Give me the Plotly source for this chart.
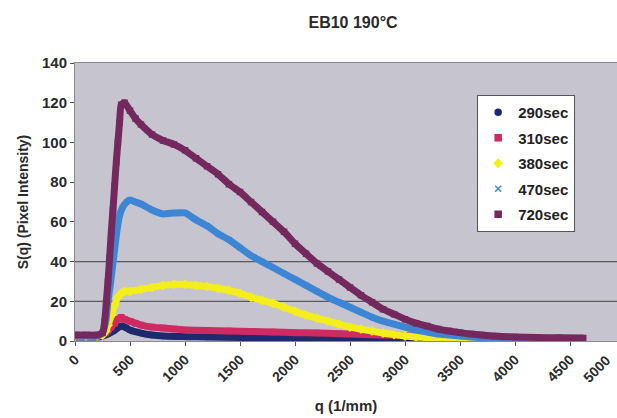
import plotly.graph_objects as go

# ---- data ----
q_290 = [0, 100, 200, 250, 300, 350, 400, 430, 470, 500, 600, 700, 800, 1000, 1200, 1500,
         2000, 2500, 3000, 3500, 4000, 4600]
s_290 = [2.0, 2.0, 2.0, 2.5, 3.5, 5.0, 7.0, 7.5, 6.5, 5.5, 4.0, 3.0, 2.5, 2.2, 2.0, 1.8,
         1.6, 1.5, 1.3, 1.2, 1.1, 1.0]

q_310 = [0, 100, 200, 250, 280, 300, 330, 360, 390, 420, 450, 500, 550, 600, 700, 800, 900,
         1000, 1200, 1400, 1600, 1800, 2000, 2200, 2400, 2600, 2800, 3000, 3200, 3400, 3600,
         3800, 4000, 4300, 4600]
s_310 = [2.5, 2.5, 2.5, 3.0, 4.0, 5.0, 7.0, 9.0, 11.0, 12.0, 11.0, 10.0, 9.0, 8.0, 7.0, 6.5,
         6.0, 5.6, 5.3, 5.0, 4.8, 4.5, 4.2, 4.0, 3.7, 3.4, 3.0, 2.7, 2.3, 2.0, 1.8, 1.5, 1.3,
         1.2, 1.1]

q_380 = [0, 100, 200, 250, 280, 300, 330, 360, 390, 420, 450, 500, 600, 700, 800, 900, 1000,
         1100, 1200, 1300, 1400, 1500, 1600, 1700, 1800, 1900, 2000, 2100, 2200, 2300, 2400,
         2500, 2600, 2700, 2800, 2900, 3000, 3100, 3200, 3300, 3600, 4000, 4600]
s_380 = [2.5, 2.5, 2.5, 3.0, 5.0, 8.0, 13.0, 18.0, 22.0, 24.0, 25.0, 25.0, 26.0, 27.0, 28.0,
         28.5, 28.5, 28.0, 27.5, 26.5, 25.5, 24.0, 22.0, 20.5, 19.0, 17.0, 15.0, 13.0, 11.5,
         10.0, 8.5, 7.0, 6.0, 5.0, 4.0, 3.2, 2.5, 2.0, 1.7, 1.5, 1.3, 1.2, 1.0]

q_470 = [0, 100, 200, 250, 280, 300, 320, 340, 360, 380, 400, 430, 470, 500, 550, 600, 700,
         800, 900, 1000, 1100, 1200, 1300, 1400, 1500, 1600, 1700, 1800, 1900, 2000, 2100,
         2200, 2300, 2400, 2500, 2600, 2700, 2800, 2900, 3000, 3100, 3200, 3300, 3400, 3500,
         3600, 3700, 4000, 4600]
s_470 = [2.5, 2.5, 2.5, 4.0, 10.0, 20.0, 28.0, 37.0, 46.0, 55.0, 62.0, 67.0, 70.0, 71.0,
         70.0, 69.0, 66.0, 64.0, 64.5, 64.5, 61.0, 58.0, 54.0, 51.0, 47.0, 43.0, 40.0, 37.0,
         34.0, 31.0, 28.0, 25.0, 22.0, 19.5, 17.0, 14.5, 12.0, 10.0, 8.5, 7.0, 5.5, 4.5, 3.5,
         3.0, 2.5, 2.0, 1.6, 1.3, 1.1]

q_720 = [0, 100, 200, 250, 270, 285, 300, 315, 330, 345, 360, 375, 390, 405, 420, 450, 500,
         550, 600, 700, 800, 900, 1000, 1100, 1200, 1300, 1400, 1500, 1600, 1700, 1800, 1900,
         2000, 2100, 2200, 2300, 2400, 2500, 2600, 2700, 2800, 2900, 3000, 3100, 3200, 3300,
         3400, 3500, 3600, 3700, 3800, 3900, 4000, 4200, 4400, 4620]
s_720 = [3.0, 3.0, 3.0, 4.0, 10.0, 20.0, 30.0, 42.0, 55.0, 66.0, 78.0, 90.0, 100.0, 110.0,
         119.0, 120.0, 116.0, 112.0, 109.0, 104.0, 101.0, 99.0, 96.0, 92.0, 88.0, 84.0, 79.0,
         75.0, 70.0, 65.0, 60.0, 55.0, 49.0, 44.0, 39.0, 35.0, 31.0, 27.0, 23.0, 19.5, 16.0,
         13.5, 11.0, 9.0, 7.5, 6.0, 5.0, 4.2, 3.5, 3.0, 2.5, 2.2, 2.0, 1.8, 1.6, 1.5]

series = [
    ("290sec", q_290, s_290, "#1d2a6e", "circle", 5),
    ("310sec", q_310, s_310, "#d02a62", "square", 5),
    ("380sec", q_380, s_380, "#f4ee1c", "diamond", 6),
    ("470sec", q_470, s_470, "#3d86d6", "x-thin-open", 5),
    ("720sec", q_720, s_720, "#74295e", "square", 5),
]

x_ticks = [0, 500, 1000, 1500, 2000, 2500, 3000, 3500, 4000, 4500]
y_ticks = [0, 20, 40, 60, 80, 100, 120, 140]

FONT = "Liberation Sans, Arial, sans-serif"

fig = go.Figure()
for i, (name, xs, ys, col, sym, sz) in enumerate(series):
    fig.add_trace(go.Scatter(
        x=xs, y=ys, mode="lines+markers", name=name, showlegend=False,
        line=dict(color=col, width=7, shape="spline", smoothing=0.5),
        marker=dict(color=col, symbol=sym, size=sz, line=dict(color=col, width=1.5)),
    ))
for i, (name, xs, ys, col, sym, sz) in enumerate(series):
    fig.add_trace(go.Scatter(
        x=[None], y=[None], mode="markers", name=name, legendgroup=f"g{i}",
        marker=dict(color=col, symbol=sym, size=6, line=dict(color=col, width=1.5)),
    ))

for g in (20, 40):
    fig.add_shape(type="line", xref="paper", x0=0, x1=1, yref="y", y0=g, y1=g,
                  line=dict(color="#5a5a5e", width=1.3), layer="below")

fig.add_annotation(text="5000", xref="paper", yref="paper", x=0.998, y=-0.03,
                   xanchor="right", yanchor="top", textangle=-45, showarrow=False,
                   font=dict(family=FONT, size=14, color="#2a2a2a", weight="bold"))

fig.update_layout(
    width=617, height=418,
    margin=dict(l=75, r=0, t=63, b=77),
    paper_bgcolor="white", plot_bgcolor="#c6c5cf",
    title=dict(text="EB10 190°C", x=0.513, xref="paper", y=0.947, yref="container",
               xanchor="center", yanchor="middle",
               font=dict(family=FONT, size=16, color="#2a2a2a", weight="bold")),
    font=dict(family=FONT, color="#2a2a2a"),
    legend=dict(x=0.742, y=0.885, xanchor="left", yanchor="top", bgcolor="white",
                bordercolor="#555", borderwidth=1, tracegroupgap=3,
                font=dict(family=FONT, size=15, color="#222", weight="bold")),
    xaxis=dict(range=[0, 4927], tickvals=x_ticks, tickangle=-45, showgrid=False,
               zeroline=False, showline=True, linecolor="#8a8a8a", linewidth=1,
               mirror=True, ticks="outside", ticklen=4, tickcolor="#555",
               tickfont=dict(family=FONT, size=14, color="#2a2a2a", weight="bold"),
               title=dict(text="q (1/mm)", standoff=16,
                          font=dict(family=FONT, size=15, color="#2a2a2a", weight="bold"))),
    yaxis=dict(range=[0, 140], tickvals=y_ticks, showgrid=False, zeroline=False,
               showline=True, linecolor="#8a8a8a", linewidth=1, mirror=True,
               ticks="outside", ticklen=4, tickcolor="#555",
               tickfont=dict(family=FONT, size=15, color="#2a2a2a", weight="bold"),
               title=dict(text="S(q) (Pixel Intensity)", standoff=10,
                          font=dict(family=FONT, size=14, color="#2a2a2a", weight="bold"))),
)

fig.write_html(
    "out.html",
    config={"displayModeBar": False},
    post_script=("document.documentElement.style.overflow='hidden';"
                 "document.body.style.overflow='hidden';"
                 "document.body.style.margin='0';"),
)
